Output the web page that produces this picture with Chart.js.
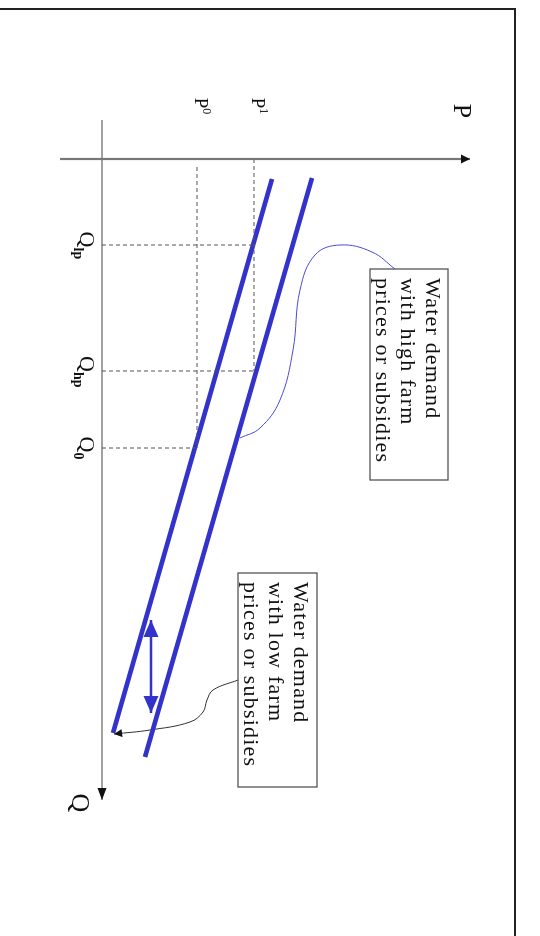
<!DOCTYPE html>
<html>
<head>
<meta charset="utf-8">
<script src="https://cdn.jsdelivr.net/npm/chart.js@4.4.1/dist/chart.umd.min.js"></script>
<style>
  html, body { margin: 0; padding: 0; background: #fff; width: 540px; height: 936px; overflow: hidden; }
  #frame { position: absolute; left: -4px; top: 8px; width: 518px; height: 940px; border-top: 2px solid #222; border-right: 2px solid #222; }
  /* the diagram is drawn upright and then turned a quarter clockwise, like the scan */
  #wrap { position: absolute; left: 540px; top: 0; width: 936px; height: 540px; transform-origin: 0 0; transform: rotate(90deg); }
</style>
</head>
<body>
<div id="frame"></div>
<div id="wrap"><canvas id="c" width="936" height="540"></canvas></div>
<script>
// Marks on the axes (Q across, P up, before turning)
const qMarks = [8.6, 21.2, 28.9];
const qMarkNames = ['lp', 'hp', '0'];
const pMarks = [9.5, 15.2];
const pMarkNames = ['0', '1'];

// Demand curves
const lowDemandQ = [2.0, 57.4];
const lowDemandP = [17.0, 1.1];
const highDemandQ = [1.9, 59.8];
const highDemandP = [21.0, 4.3];

// Shift arrow between the curves
const shiftQ = [46.1, 55.4];
const shiftP = [4.9, 4.9];

// Callout leaders
const highNoteQ = [11.0, 9.3, 8.6, 9.6, 13.1, 19.1, 24.1, 26.9, 27.9];
const highNoteP = [29.3, 27.0, 23.8, 21.3, 19.8, 19.1, 17.8, 15.8, 13.8];
const lowNoteQ = [52.1, 53.1, 54.1, 55.3, 56.3, 57.1, 57.5];
const lowNoteP = [13.6, 11.1, 10.5, 10.1, 8.8, 4.8, 1.2];

const highNoteText = ['Water demand', 'with high farm', 'prices or subsidies'];
const lowNoteText = ['Water demand', 'with low farm', 'prices or subsidies'];

const BLUE = '#3333cc';
const SERIF = '"Liberation Serif", "DejaVu Serif", serif';

const pts = (qs, ps) => qs.map((q, i) => ({ x: q, y: ps[i] }));

// dashed guides from the axes to the curves
const guides = [];
qMarks.forEach((q, i) => {
    const top = i < 2 ? pMarks[1] : pMarks[0];
    guides.push([{ x: q, y: 0 }, { x: q, y: top }]);
});
guides.push([{ x: 0.8, y: pMarks[0] }, { x: qMarks[2], y: pMarks[0] }]);
guides.push([{ x: 0, y: pMarks[1] }, { x: qMarks[1], y: pMarks[1] }]);

const line = (data, color, width, extra) => Object.assign({
    data, showLine: true, borderColor: color, borderWidth: width,
    pointRadius: 0, pointHoverRadius: 0, fill: false, tension: 0
}, extra || {});

const datasets = [
    // axes
    line([{ x: 0, y: -4.2 }, { x: 0, y: 36.8 }], '#777', 2.2, { arrowEnd: true, arrowSize: [9, 4.5] }),
    line([{ x: -3.9, y: 0 }, { x: 64.1, y: 0 }], '#444', 1.2, { arrowEnd: true, arrowSize: [12, 4.5] }),
    ...guides.map(g => line(g, '#555', 1, { borderDash: [4, 3] })),
    line(pts(lowDemandQ, lowDemandP), BLUE, 4.5),
    line(pts(highDemandQ, highDemandP), BLUE, 4.5),
    line(pts(shiftQ, shiftP), BLUE, 2.5, { arrowEnd: true, arrowStart: true, arrowSize: [17, 7.5], arrowColor: BLUE }),
    line(pts(highNoteQ, highNoteP), '#4a4ad8', 1, { tension: 0.4 }),
    line(pts(lowNoteQ, lowNoteP), '#333', 1, { tension: 0.4, arrowEnd: true, arrowSize: [8, 4] })
];

function drawHead(ctx, tip, from, size, color) {
    const ang = Math.atan2(tip.y - from.y, tip.x - from.x);
    const [len, half] = size;
    ctx.save();
    ctx.translate(tip.x, tip.y);
    ctx.rotate(ang);
    ctx.fillStyle = color;
    ctx.beginPath();
    ctx.moveTo(0, 0);
    ctx.lineTo(-len, -half);
    ctx.lineTo(-len, half);
    ctx.closePath();
    ctx.fill();
    ctx.restore();
}

const arrowHeads = {
    id: 'arrowHeads',
    afterDatasetsDraw(chart) {
        const ctx = chart.ctx;
        chart.data.datasets.forEach((ds, i) => {
            const el = chart.getDatasetMeta(i).data;
            const size = ds.arrowSize || [10, 4.5];
            const color = ds.arrowColor || '#111';
            if (ds.arrowEnd) drawHead(ctx, el[el.length - 1], el[el.length - 2], size, color);
            if (ds.arrowStart) drawHead(ctx, el[0], el[1], size, color);
        });
    }
};

function labelWithIndex(ctx, x, y, base, idx, size, sup) {
    const small = Math.round(size * 0.62);
    ctx.font = size + 'px ' + SERIF;
    const w = ctx.measureText(base).width;
    ctx.font = small + 'px ' + SERIF;
    const w2 = ctx.measureText(idx).width;
    const left = x - (w + w2) / 2;
    ctx.textBaseline = 'alphabetic';
    ctx.textAlign = 'left';
    ctx.font = size + 'px ' + SERIF;
    ctx.fillText(base, left, y);
    ctx.font = (sup ? '' : 'bold ') + small + 'px ' + SERIF;
    ctx.fillText(idx, left + w, sup ? y - size * 0.42 : y + size * 0.25);
}

function noteBox(ctx, x0, y0, x1, y1, lines, lineY) {
    ctx.save();
    ctx.strokeStyle = '#555';
    ctx.lineWidth = 1.3;
    ctx.fillStyle = '#fff';
    ctx.fillRect(x0, y0, x1 - x0, y1 - y0);
    ctx.strokeRect(x0, y0, x1 - x0, y1 - y0);
    ctx.fillStyle = '#111';
    ctx.font = '22px ' + SERIF;
    ctx.textAlign = 'left';
    ctx.textBaseline = 'middle';
    ctx.letterSpacing = '1.2px';
    lines.forEach((t, i) => ctx.fillText(t, x0 + 9, y0 + lineY[i]));
    ctx.restore();
}

const labels = {
    id: 'labels',
    afterDraw(chart) {
        const ctx = chart.ctx;
        const X = v => chart.scales.x.getPixelForValue(v);
        const Y = v => chart.scales.y.getPixelForValue(v);
        ctx.save();
        ctx.fillStyle = '#111';
        // axis names
        ctx.font = '26px ' + SERIF;
        ctx.textAlign = 'center';
        ctx.textBaseline = 'middle';
        ctx.fillText('P', X(-4.8), Y(35.9));
        ctx.fillText('Q', X(64.4), Y(-2.3));
        // marks
        pMarks.forEach((p, i) => labelWithIndex(ctx, X(-5.3), Y(p) + 2, 'P', pMarkNames[i], 19, true));
        qMarks.forEach((q, i) => labelWithIndex(ctx, X(q), Y(-2.2), 'Q', qMarkNames[i], 22, false));
        ctx.restore();
        // callout boxes
        noteBox(ctx, X(11.0), Y(34.6), X(32.1), Y(26.8), highNoteText, [16, 41, 66]);
        noteBox(ctx, X(41.4), Y(21.5), X(62.8), Y(13.6), lowNoteText, [17, 42, 67]);
    }
};

new Chart(document.getElementById('c'), {
    type: 'scatter',
    data: { datasets },
    options: {
        responsive: false,
        animation: false,
        layout: { padding: 0 },
        plugins: { legend: { display: false }, tooltip: { enabled: false } },
        scales: {
            x: { type: 'linear', display: false, min: -15.9, max: 77.7 },
            y: { type: 'linear', display: false, min: -10.2, max: 43.8 }
        }
    },
    plugins: [arrowHeads, labels]
});
</script>
</body>
</html>
